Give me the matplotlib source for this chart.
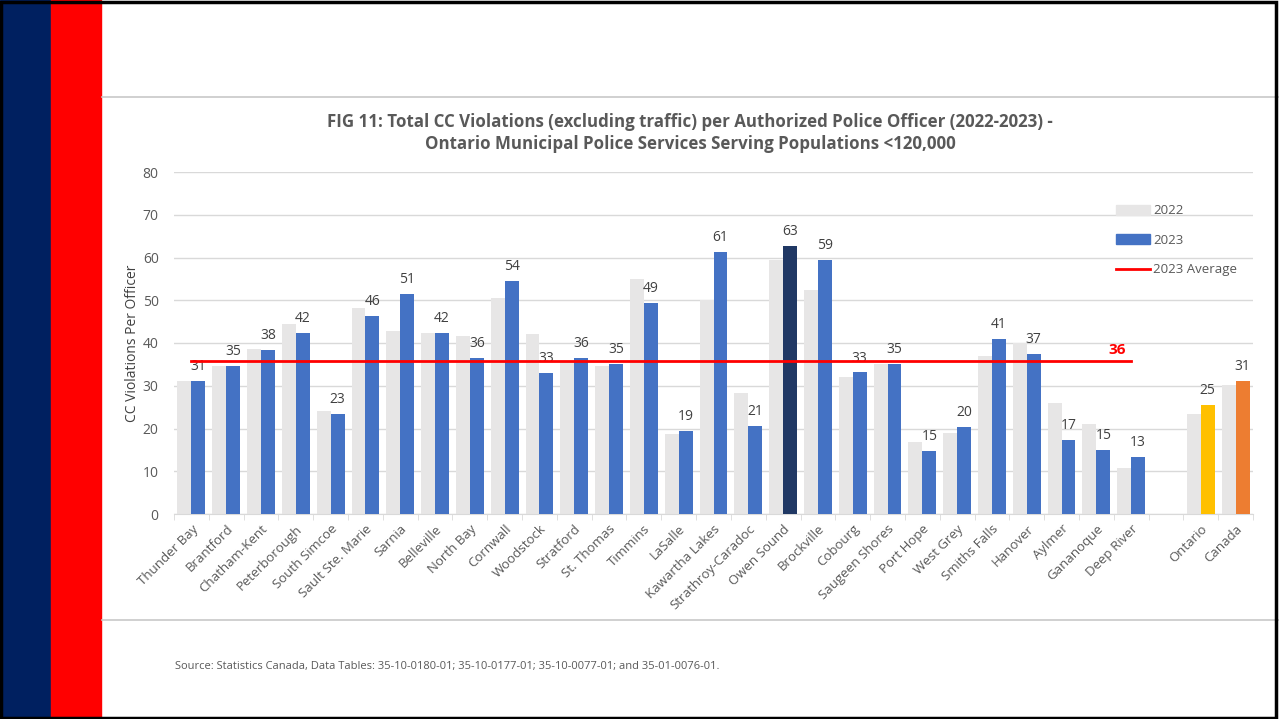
import matplotlib.pyplot as plt
from matplotlib.patches import Patch, Rectangle
from matplotlib.lines import Line2D
import numpy as np

plt.rcParams["font.family"] = ["Open Sans", "DejaVu Sans"]

services = [
    "Thunder Bay", "Brantford", "Chatham-Kent", "Peterborough", "South Simcoe",
    "Sault Ste. Marie", "Sarnia", "Belleville", "North Bay", "Cornwall",
    "Woodstock", "Stratford", "St. Thomas", "Timmins", "LaSalle",
    "Kawartha Lakes", "Strathroy-Caradoc", "Owen Sound", "Brockville", "Cobourg",
    "Saugeen Shores", "Port Hope", "West Grey", "Smiths Falls", "Hanover",
    "Aylmer", "Gananoque", "Deep River",
]
totals = ["Ontario", "Canada"]

values_2022 = [
    31.2, 34.7, 38.7, 44.5, 24.0, 48.2, 42.7, 42.4, 41.7, 50.6,
    42.2, 35.7, 34.7, 55.0, 18.6, 50.1, 28.2, 59.4, 52.4, 32.0,
    35.0, 16.8, 18.9, 36.9, 40.0, 25.9, 21.0, 10.7,
]
values_2023 = [
    31.2, 34.7, 38.4, 42.4, 23.4, 46.4, 51.4, 42.4, 36.4, 54.4,
    33.0, 36.4, 35.0, 49.4, 19.4, 61.4, 20.6, 62.7, 59.4, 33.1,
    35.2, 14.8, 20.4, 41.0, 37.4, 17.3, 15.0, 13.4,
]
totals_2022 = [23.5, 30.1]
totals_2023 = [25.4, 31.1]
avg_2023 = 35.8
highlight = "Owen Sound"

grey = "#E7E6E6"
blue = "#4472C4"
navy = "#203864"
text_grey = "#595959"

fig = plt.figure(figsize=(12.79, 7.19), dpi=100)

# slide decoration
fig.patches.append(Rectangle((0, 0), 50 / 1279, 1, transform=fig.transFigure,
                             color="#002060", zorder=0))
fig.patches.append(Rectangle((51 / 1279, 0), 50 / 1279, 1, transform=fig.transFigure,
                             color="#FF0000", zorder=0))
fig.add_artist(Line2D([102 / 1279, 1], [1 - 97 / 719] * 2, color="#C8C8C8", lw=1.2))
fig.add_artist(Line2D([102 / 1279, 1], [1 - 620 / 719] * 2, color="#C8C8C8", lw=1.2))
fig.patches.append(Rectangle((0.001, 0.002), 0.997, 0.995, transform=fig.transFigure,
                             fill=False, ec="black", lw=2.5, zorder=5))

ax = fig.add_axes([174 / 1279, 1 - 514 / 719, 1079 / 1279, 342 / 719])

labels = services + [""] + totals
x_serv = np.arange(len(services))
x_tot = np.arange(len(services) + 1, len(services) + 1 + len(totals))
w = 0.4

ax.bar(x_serv - 0.2, values_2022, width=w, color=grey, zorder=2)
ax.bar(x_tot - 0.2, totals_2022, width=w, color=grey, zorder=2)
colors_2023 = [navy if s == highlight else blue for s in services]
ax.bar(x_serv + 0.2, values_2023, width=w, color=colors_2023, zorder=3)
ax.bar(x_tot + 0.2, totals_2023, width=w, color=["#FFC000", "#ED7D31"], zorder=3)

for xi, v in zip(list(x_serv) + list(x_tot), values_2023 + totals_2023):
    ax.annotate(f"{v:.0f}", (xi + 0.2, v), xytext=(0, 5), textcoords="offset points",
                ha="center", va="bottom", fontsize=10, color="#404040", zorder=4)

ax.plot([x_serv[0], x_serv[-1]], [avg_2023, avg_2023], color="#FF0000", lw=2, zorder=4)
ax.annotate(f"{avg_2023:.0f}", (x_serv[-1] - 0.4, avg_2023), xytext=(0, 3),
            textcoords="offset points", ha="center", va="bottom",
            fontsize=11, fontweight="bold", color="#FF0000")

ax.set_xlim(-0.5, len(labels) - 0.5)
ax.set_ylim(0, 80)
ax.set_yticks(range(0, 81, 10))
ax.grid(axis="y", color="#D9D9D9", lw=1, zorder=0)
ax.set_xticks(range(len(labels)))
ax.set_xticklabels(labels, rotation=45, ha="right", rotation_mode="anchor",
                   fontsize=9.5, color=text_grey)
ax.tick_params(axis="x", length=0, pad=6)
ax.set_xticks(np.arange(-0.5, len(labels), 1), minor=True)
ax.tick_params(axis="x", which="minor", length=4, color="#D9D9D9")
ax.tick_params(axis="y", length=0, labelsize=10, labelcolor=text_grey, pad=11)
for side in ["top", "right", "left"]:
    ax.spines[side].set_visible(False)
ax.spines["bottom"].set_color("#D9D9D9")
ax.set_ylabel("CC Violations Per Officer", fontsize=10, color="#404040", labelpad=2)

handles = [
    Patch(color=grey, label="2022"),
    Patch(color=blue, label="2023"),
    Line2D([], [], color="#FF0000", lw=2, label="2023 Average"),
]
ax.legend(handles=handles, loc="upper left", bbox_to_anchor=(0.862, 0.94),
          frameon=False, fontsize=9.5, labelcolor=text_grey, handlelength=2.6,
          handleheight=0.8, handletextpad=0.2, labelspacing=1.25)

fig.text(690 / 1279, 1 - 122 / 719,
         "FIG 11: Total CC Violations (excluding traffic) per Authorized Police Officer (2022-2023) -",
         ha="center", va="center", fontsize=12.2, fontweight="bold", color=text_grey)
fig.text(690 / 1279, 1 - 144 / 719,
         "Ontario Municipal Police Services Serving Populations <120,000",
         ha="center", va="center", fontsize=12.2, fontweight="bold", color=text_grey)
fig.text(175 / 1279, 1 - 667 / 719,
         "Source: Statistics Canada, Data Tables: 35-10-0180-01; 35-10-0177-01; 35-10-0077-01; and 35-01-0076-01.",
         ha="left", va="center", fontsize=8, color=text_grey)

fig.savefig("out.png", dpi=100)
